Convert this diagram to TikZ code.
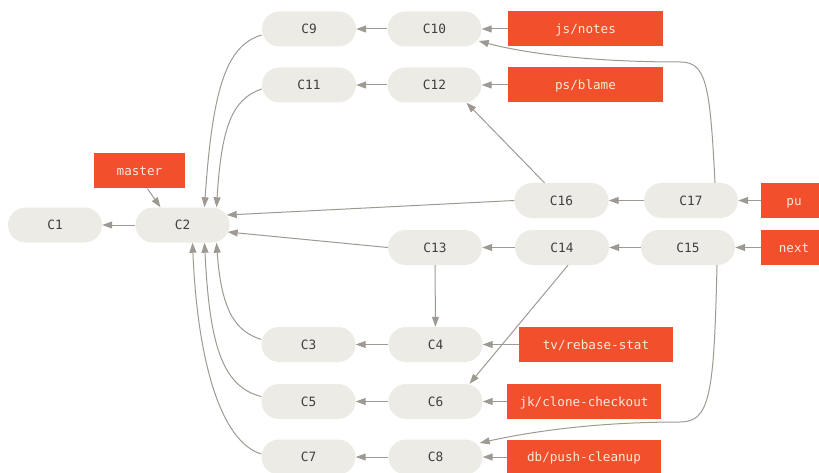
\documentclass[tikz,border=0pt]{standalone}
\usepackage{fontspec}
\setmonofont{DejaVu Sans Mono}
\usetikzlibrary{arrows.meta}
\definecolor{pillfill}{RGB}{236,235,229}
\definecolor{pilltext}{RGB}{64,64,64}
\definecolor{refred}{RGB}{242,80,44}
\definecolor{reftext}{RGB}{252,232,222}
\definecolor{edgegray}{RGB}{158,154,147}
\begin{document}
\begin{tikzpicture}[x=1pt,y=1pt,
  commit/.style={rectangle, rounded corners=17.5pt, fill=pillfill, minimum width=94pt, minimum height=35pt,
    inner sep=0pt, text=pilltext, text height=9.3pt, text depth=0pt, font=\ttfamily\fontsize{12.8}{14}\selectfont},
  branch/.style={rectangle, fill=refred, minimum height=35pt, inner sep=0pt, text=reftext,
    text height=9.3pt, text depth=0pt, font=\ttfamily\fontsize{12.6}{14}\selectfont},
  link/.style={draw=edgegray, line width=1pt, -{Triangle[length=10pt,width=7pt]}}]
\useasboundingbox (0,0) rectangle (819,472);
% commits
\node[commit] (C1) at (55,247) {C1};
\node[commit] (C2) at (182.5,247) {C2};
\node[commit] (C9) at (309,443) {C9};
\node[commit] (C10) at (434.5,443) {C10};
\node[commit] (C11) at (309,387) {C11};
\node[commit] (C12) at (434.5,387) {C12};
\node[commit] (C16) at (561.5,271.5) {C16};
\node[commit] (C17) at (691,271.5) {C17};
\node[commit] (C13) at (435,224.5) {C13};
\node[commit] (C14) at (562,224.5) {C14};
\node[commit] (C15) at (688,224.5) {C15};
\node[commit] (C3) at (308.5,127.5) {C3};
\node[commit] (C4) at (435.5,127.5) {C4};
\node[commit] (C5) at (308.5,70.5) {C5};
\node[commit] (C6) at (435.5,70.5) {C6};
\node[commit] (C7) at (308.5,15) {C7};
\node[commit] (C8) at (435.5,15) {C8};
% branches
\node[branch, minimum width=91pt] (master) at (139.5,301) {master};
\node[branch, minimum width=155pt] (jsnotes) at (585.5,443) {js/notes};
\node[branch, minimum width=155pt] (psblame) at (585.5,387) {ps/blame};
\node[branch, minimum width=66pt] (pu) at (794,271.5) {pu};
\node[branch, minimum width=66pt] (next) at (794,224.5) {next};
\node[branch, minimum width=154pt] (tv) at (596,127.5) {tv/rebase-stat};
\node[branch, minimum width=154pt] (jk) at (584,70.5) {jk/clone-checkout};
\node[branch, minimum width=154pt] (db) at (584,15) {db/push-cleanup};
% branch pointers
\draw[link] (jsnotes.west) -- (C10.east);
\draw[link] (psblame.west) -- (C12.east);
\draw[link] (pu.west) -- (C17.east);
\draw[link] (next.west) -- (C15.east);
\draw[link] (tv.west) -- (C4.east);
\draw[link] (jk.west) -- (C6.east);
\draw[link] (db.west) -- (C8.east);
\draw[link] ([xshift=8pt]master.south) -- ([xshift=-22pt]C2.north);
% straight parents
\draw[link] (C2.west) -- (C1.east);
\draw[link] (C10.west) -- (C9.east);
\draw[link] (C12.west) -- (C11.east);
\draw[link] (C17.west) -- (C16.east);
\draw[link] (C15.west) -- (C14.east);
\draw[link] (C14.west) -- (C13.east);
\draw[link] (C4.west) -- (C3.east);
\draw[link] (C6.west) -- (C5.east);
\draw[link] (C8.west) -- (C7.east);
\draw[link] (C13.south) -- (C4.north);
\draw[link] (C16.west) -- ([xshift=-3pt,yshift=10pt]C2.east);
\draw[link] (C13.west) -- ([xshift=-2pt,yshift=-7pt]C2.east);
\draw[link] ([xshift=-17pt]C16.north) -- ([xshift=32pt]C12.south);
\draw[link] ([xshift=6pt]C14.south) -- ([xshift=34pt]C6.north);
% curved parents to C2
\draw[link] ([yshift=-6pt]C9.west) .. controls +(-35,-10) and +(8,120) .. ([xshift=22pt]C2.north);
\draw[link] ([yshift=-4pt]C11.west) .. controls +(-30,-10) and +(5,80) .. ([xshift=34pt]C2.north);
\draw[link] ([yshift=5pt]C3.west) .. controls +(-25,8) and +(5,-70) .. ([xshift=34pt]C2.south);
\draw[link] ([yshift=5pt]C5.west) .. controls +(-40,10) and +(5,-100) .. ([xshift=22pt]C2.south);
\draw[link] ([yshift=3pt]C7.west) .. controls +(-40,12) and +(5,-120) .. ([xshift=10pt]C2.south);
% long curves
\coordinate (bendA) at (680,410);
\coordinate (bendB) at (680,50);
\draw[link] ([xshift=24pt]C17.north) .. controls +(-5,100) and +(26,0) .. (bendA)
  .. controls +(-90,0) and +(45,-12) .. ([xshift=-3pt,yshift=-12pt]C10.east);
\draw[link] ([xshift=29pt]C15.south) .. controls +(-3,-130) and +(30,0) .. (bendB)
  .. controls +(-90,0) and +(45,10) .. ([xshift=-3pt,yshift=14pt]C8.east);
\end{tikzpicture}
\end{document}
